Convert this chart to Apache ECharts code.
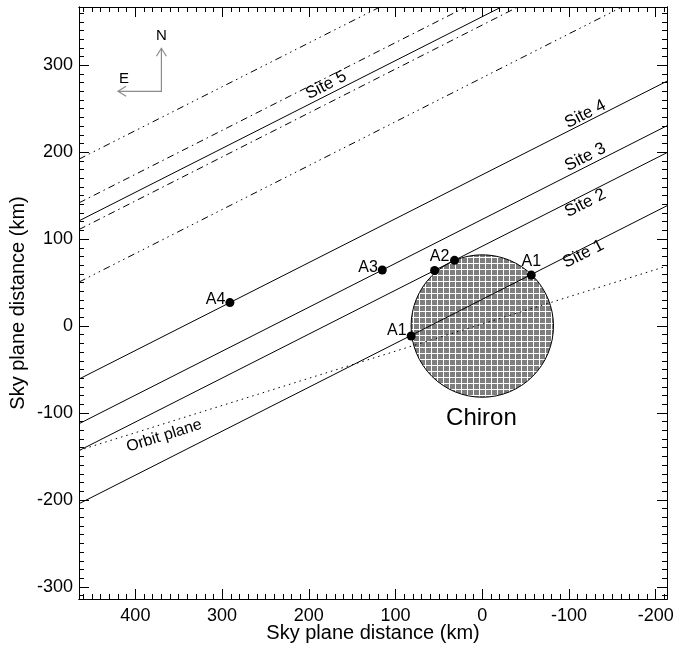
<!DOCTYPE html>
<html>
<head>
<meta charset="utf-8">
<title>Chiron occultation chords</title>
<script src="https://cdn.jsdelivr.net/npm/echarts@6.0.0/dist/echarts.min.js"></script>
<style>
  html, body { margin: 0; padding: 0; background: #fff; }
  #chart { width: 673px; height: 648px; }
</style>
</head>
<body>
<div id="chart"></div>
<script>
var chart = echarts.init(document.getElementById('chart'));

// axis ranges and ticks (km)
var xRange = [-213, 465];
var yRange = [-314, 367];
var xMajorTicks = [400, 300, 200, 100, 0, -100, -200];
var yMajorTicks = [-300, -200, -100, 0, 100, 200, 300];

// chords, as [x, y] end points
var site1 = [[465, -204.4], [-213, 138.4]];
var site2 = [[465, -143.3], [-213, 199.5]];
var site3 = [[465, -112.4], [-213, 230.4]];
var site4 = [[465, -61], [-213, 281.7]];
var site5 = [[465, 121], [-22, 367]];
var site5Upper1 = [[465, 192], [118, 367]];
var site5Upper2 = [[465, 141.7], [19, 367]];
var site5Lower1 = [[465, 111], [-41, 367]];
var site5Lower2 = [[465, 50.6], [-161, 367]];
var orbitPlane = [[465, -143], [-213, 69]];

// Chiron disc: [x, y, radius]
var chiron = [[0, 0, 82]];

// events on the chords
var eventPoints = [[-56.5, 58.6], [82, -11.5], [55, 63.9], [32, 75.6], [115.3, 64.4], [291, 27]];
var eventNames = ['A1', 'A1', 'A2', '', 'A3', 'A4'];

// text labels: [x, y, text]
var siteLabels = [
    [-118.8, 243.7, 'Site 4'],
    [-118.8, 194.3, 'Site 3'],
    [-118.8, 141.4, 'Site 2'],
    [-116.5, 82.8, 'Site 1'],
    [180, 277, 'Site 5']
];
var orbitLabel = [[366.8, -126.4, 'Orbit plane']];
var chironLabel = [[1, -105.7, 'Chiron']];

// compass: origin, north tip, east tip
var compass = [[370, 270, 319.5, 420]];

var FONT = '"Liberation Sans", Arial, Helvetica, sans-serif';

function minorTicks(lo, hi) {
    var out = [];
    for (var v = Math.ceil(lo / 10) * 10; v <= hi; v += 10) {
        if (v % 100 !== 0) out.push(v);
    }
    return out;
}

function makePattern() {
    var c = document.createElement('canvas');
    c.width = 6;
    c.height = 6;
    var ctx = c.getContext('2d');
    ctx.fillStyle = '#ffffff';
    ctx.fillRect(0, 0, 6, 6);
    ctx.fillStyle = '#7e7e7e';
    ctx.fillRect(0, 0, 5, 5);
    return c;
}
var pattern = makePattern();

function xAxisDef(pos, ticks, len, main) {
    return {
        type: 'value',
        position: pos,
        min: xRange[0],
        max: xRange[1],
        inverse: true,
        name: main ? 'Sky plane distance (km)' : '',
        nameLocation: 'middle',
        nameGap: 24,
        nameMoveOverlap: false,
        nameTextStyle: { fontSize: 20, color: '#000', fontFamily: FONT },
        axisLine: { show: true, onZero: false, lineStyle: { color: '#000', width: 1 } },
        axisTick: { show: true, inside: true, length: len, customValues: ticks, lineStyle: { color: '#000' } },
        axisLabel: { show: main, customValues: xMajorTicks, fontSize: 18, color: '#000', margin: 8, fontFamily: FONT },
        splitLine: { show: false }
    };
}

function yAxisDef(pos, ticks, len, main) {
    return {
        type: 'value',
        position: pos,
        min: yRange[0],
        max: yRange[1],
        name: main ? 'Sky plane distance (km)' : '',
        nameLocation: 'middle',
        nameGap: 51,
        nameMoveOverlap: false,
        nameTextStyle: { fontSize: 20, color: '#000', fontFamily: FONT },
        axisLine: { show: true, onZero: false, lineStyle: { color: '#000', width: 1 } },
        axisTick: { show: true, inside: true, length: len, customValues: ticks, lineStyle: { color: '#000' } },
        axisLabel: { show: main, customValues: yMajorTicks, fontSize: 18, color: '#000', margin: 6, fontFamily: FONT },
        splitLine: { show: false }
    };
}

function chord(data, type) {
    return {
        type: 'line',
        data: data,
        symbol: 'none',
        silent: true,
        clip: true,
        z: 3,
        lineStyle: { color: '#000', width: 1, type: type || 'solid' }
    };
}

var dashDot = [7, 4, 1.5, 4];
var dashDotDotDot = [7, 4, 1.5, 4, 1.5, 4, 1.5, 4];
var dotted = [1.5, 4];

function textSeries(data, size, rot) {
    return {
        type: 'custom',
        data: data,
        z: 5,
        silent: true,
        renderItem: function (params, api) {
            var p = api.coord([api.value(0), api.value(1)]);
            return {
                type: 'text',
                x: p[0],
                y: p[1],
                rotation: rot,
                style: {
                    text: data[params.dataIndex][2],
                    fontSize: size,
                    fontFamily: FONT,
                    fill: '#000',
                    align: 'center',
                    verticalAlign: 'middle',
                    textAlign: 'center',
                    textVerticalAlign: 'middle'
                }
            };
        }
    };
}

var labelPlacement = [
    { position: 'top', distance: 1 },
    { position: 'left', distance: 0, offset: [0, -5] },
    { position: 'top', distance: 1, offset: [5, 0] },
    { show: false },
    { position: 'left', distance: 0, offset: [0, -2] },
    { position: 'left', distance: 0, offset: [0, -3] }
];

var eventData = eventPoints.map(function (p, i) {
    var lab = labelPlacement[i];
    return {
        name: eventNames[i],
        value: p,
        label: {
            show: lab.show !== false,
            position: lab.position,
            distance: lab.distance,
            offset: lab.offset || [0, 0]
        }
    };
});

var siteRot = Math.atan(0.509);
var orbitRot = Math.atan(0.313);

var option = {
    animation: false,
    backgroundColor: '#fff',
    grid: { left: 79, right: 6, top: 7, bottom: 49, outerBoundsMode: 'none', containLabel: false },
    xAxis: [
        xAxisDef('bottom', xMajorTicks, 10, true),
        xAxisDef('bottom', minorTicks(xRange[0], xRange[1]), 5, false),
        xAxisDef('top', xMajorTicks, 10, false),
        xAxisDef('top', minorTicks(xRange[0], xRange[1]), 5, false)
    ],
    yAxis: [
        yAxisDef('left', yMajorTicks, 10, true),
        yAxisDef('left', minorTicks(yRange[0], yRange[1]), 5, false),
        yAxisDef('right', yMajorTicks, 10, false),
        yAxisDef('right', minorTicks(yRange[0], yRange[1]), 5, false)
    ],
    series: [
        {
            type: 'custom',
            data: chiron,
            z: 1,
            silent: true,
            clip: true,
            renderItem: function (params, api) {
                var c = api.coord([api.value(0), api.value(1)]);
                var r = api.size([api.value(2), api.value(2)]);
                return {
                    type: 'circle',
                    shape: { cx: c[0], cy: c[1], r: (r[0] + r[1]) / 2 },
                    style: { fill: { image: pattern, repeat: 'repeat' }, stroke: '#000', lineWidth: 1 }
                };
            }
        },
        chord(site1),
        chord(site2),
        chord(site3),
        chord(site4),
        chord(site5),
        chord(site5Upper1, dashDotDotDot),
        chord(site5Upper2, dashDot),
        chord(site5Lower1, dashDot),
        chord(site5Lower2, dashDotDotDot),
        chord(orbitPlane, dotted),
        {
            type: 'scatter',
            data: eventData,
            symbol: 'circle',
            symbolSize: 9,
            z: 6,
            silent: true,
            itemStyle: { color: '#000', opacity: 1 },
            label: {
                formatter: '{b}',
                fontSize: 16,
                color: '#000',
                fontFamily: FONT
            }
        },
        textSeries(siteLabels, 17, siteRot),
        textSeries(orbitLabel, 16, orbitRot),
        textSeries(chironLabel, 24, 0),
        {
            type: 'custom',
            data: compass,
            z: 5,
            silent: true,
            renderItem: function (params, api) {
                var o = api.coord([api.value(0), api.value(1)]);
                var n = api.coord([api.value(0), api.value(2)]);
                var e = api.coord([api.value(3), api.value(1)]);
                var ls = { stroke: '#8c8c8c', lineWidth: 1.2, fill: null };
                var h = 5;
                return {
                    type: 'group',
                    children: [
                        { type: 'polyline', shape: { points: [n, o, e] }, style: ls },
                        { type: 'polyline', shape: { points: [[n[0] - h, n[1] + h * 1.6], n, [n[0] + h, n[1] + h * 1.6]] }, style: ls },
                        { type: 'polyline', shape: { points: [[e[0] + h * 1.6, e[1] - h], e, [e[0] + h * 1.6, e[1] + h]] }, style: ls },
                        { type: 'text', x: n[0], y: n[1] - 12, style: { text: 'N', fontSize: 15, fontFamily: FONT, fill: '#000', align: 'center', verticalAlign: 'middle', textAlign: 'center', textVerticalAlign: 'middle' } },
                        { type: 'text', x: e[0] + 6, y: e[1] - 12, style: { text: 'E', fontSize: 15, fontFamily: FONT, fill: '#000', align: 'center', verticalAlign: 'middle', textAlign: 'center', textVerticalAlign: 'middle' } }
                    ]
                };
            }
        }
    ]
};

chart.setOption(option);
</script>
</body>
</html>
